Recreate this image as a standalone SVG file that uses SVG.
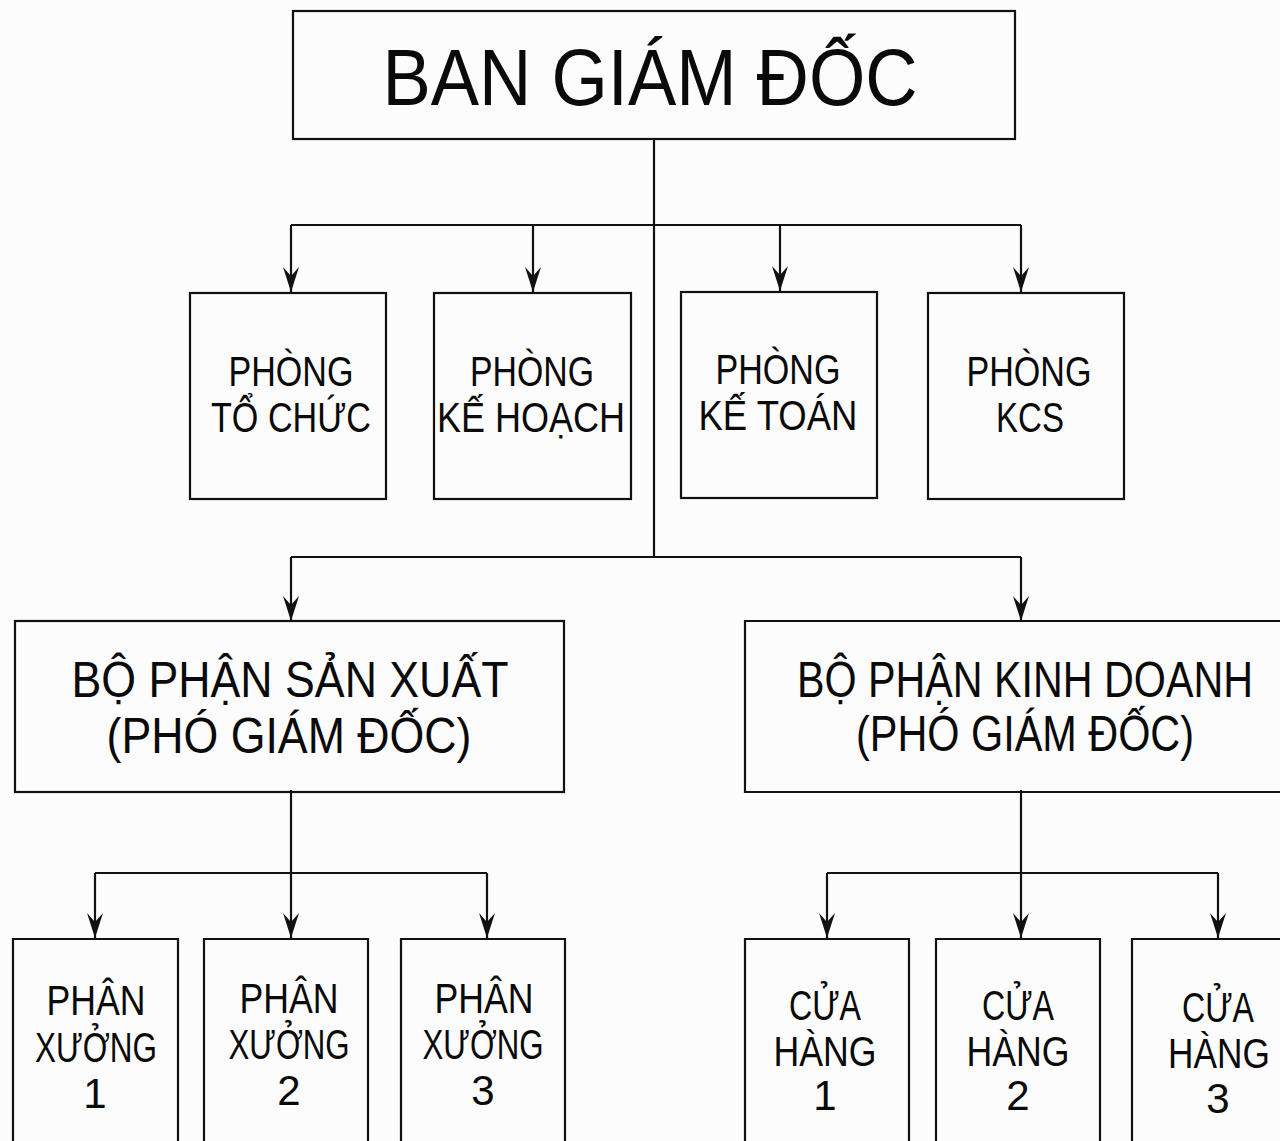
<svg xmlns="http://www.w3.org/2000/svg" width="1280" height="1141" viewBox="0 0 1280 1141">
  <style>
    .box { fill: none; stroke: #111; stroke-width: 2.2; }
    .wire { fill: none; stroke: #111; stroke-width: 2.2; }
    .arrow { fill: none; stroke: #111; stroke-width: 2.2; marker-end: url(#head); }
    text { font-family: "Liberation Sans", Arial, sans-serif; fill: #0a0a0a; text-anchor: middle; }
    .t1 { font-size: 80px; }
    .t2 { font-size: 42px; }
    .t3 { font-size: 50px; }
    .t4 { font-size: 42px; }
  </style>
  <defs>
    <!-- barbed arrowhead, tip at the end of the line -->
    <marker id="head" markerUnits="userSpaceOnUse" viewBox="0 0 25 16" refX="25" refY="8" markerWidth="25" markerHeight="16" orient="auto">
      <path d="M0,0 L25,8 L0,16 L9,8 z" fill="#111"/>
    </marker>
  </defs>
  <rect width="1280" height="1141" fill="#fcfcfc"/>

  <!-- connectors -->
  <g id="connectors">
    <path class="wire" d="M654,139 V557"/>
    <path class="wire" d="M291,225 H1021"/>
    <path class="arrow" d="M291,225 V292"/>
    <path class="arrow" d="M533,225 V292"/>
    <path class="arrow" d="M780,225 V291"/>
    <path class="arrow" d="M1021,225 V292"/>
    <path class="wire" d="M291,557 H1021"/>
    <path class="arrow" d="M291,557 V621"/>
    <path class="arrow" d="M1021,557 V621"/>
    <path class="arrow" d="M291,790 V938"/>
    <path class="wire" d="M95,873 H487"/>
    <path class="arrow" d="M95,873 V938"/>
    <path class="arrow" d="M487,873 V938"/>
    <path class="arrow" d="M1021,790 V938"/>
    <path class="wire" d="M827,873 H1218"/>
    <path class="arrow" d="M827,873 V938"/>
    <path class="arrow" d="M1218,873 V938"/>
  </g>

  <g id="ban-giam-doc">
    <rect class="box" x="293" y="11" width="722" height="128"/>
    <text class="t1" x="650" y="105" textLength="535" lengthAdjust="spacingAndGlyphs">BAN GIÁM ĐỐC</text>
  </g>

  <g id="phong-to-chuc">
    <rect class="box" x="190" y="293" width="196" height="206"/>
    <text class="t2" x="291" y="386" textLength="125" lengthAdjust="spacingAndGlyphs">PHÒNG</text>
    <text class="t2" x="291" y="432" textLength="160" lengthAdjust="spacingAndGlyphs">TỔ CHỨC</text>
  </g>

  <g id="phong-ke-hoach">
    <rect class="box" x="434" y="293" width="197" height="206"/>
    <text class="t2" x="532" y="386" textLength="124" lengthAdjust="spacingAndGlyphs">PHÒNG</text>
    <text class="t2" x="531" y="432" textLength="188" lengthAdjust="spacingAndGlyphs">KẾ HOẠCH</text>
  </g>

  <g id="phong-ke-toan">
    <rect class="box" x="681" y="292" width="196" height="206"/>
    <text class="t2" x="778" y="384" textLength="125" lengthAdjust="spacingAndGlyphs">PHÒNG</text>
    <text class="t2" x="778" y="430" textLength="159" lengthAdjust="spacingAndGlyphs">KẾ TOÁN</text>
  </g>

  <g id="phong-kcs">
    <rect class="box" x="928" y="293" width="196" height="206"/>
    <text class="t2" x="1029" y="386" textLength="125" lengthAdjust="spacingAndGlyphs">PHÒNG</text>
    <text class="t2" x="1030" y="432" textLength="68" lengthAdjust="spacingAndGlyphs">KCS</text>
  </g>

  <g id="bo-phan-san-xuat">
    <rect class="box" x="15" y="621" width="549" height="171"/>
    <text class="t3" x="290" y="697" textLength="437" lengthAdjust="spacingAndGlyphs">BỘ PHẬN SẢN XUẤT</text>
    <text class="t3" x="289" y="753" textLength="365" lengthAdjust="spacingAndGlyphs">(PHÓ GIÁM ĐỐC)</text>
  </g>

  <!-- this box runs past the right edge of the sheet -->
  <g id="bo-phan-kinh-doanh">
    <path class="box" d="M1281,621 H745 V792 H1281"/>
    <text class="t3" transform="translate(1025,697) scale(0.825,1)">BỘ PHẬN KINH DOANH</text>
    <text class="t3" x="1025" y="751" textLength="338" lengthAdjust="spacingAndGlyphs">(PHÓ GIÁM ĐỐC)</text>
  </g>

  <!-- bottom row boxes run past the lower edge of the sheet -->
  <g id="phan-xuong-1">
    <path class="box" d="M13,1142 V939 H178 V1142"/>
    <text class="t4" x="96" y="1015" textLength="99" lengthAdjust="spacingAndGlyphs">PHÂN</text>
    <text class="t4" x="96" y="1062" textLength="122" lengthAdjust="spacingAndGlyphs">XƯỞNG</text>
    <text class="t4" x="95" y="1108">1</text>
  </g>

  <g id="phan-xuong-2">
    <path class="box" d="M204,1142 V939 H368 V1142"/>
    <text class="t4" x="289" y="1013" textLength="99" lengthAdjust="spacingAndGlyphs">PHÂN</text>
    <text class="t4" x="289" y="1059" textLength="121" lengthAdjust="spacingAndGlyphs">XƯỞNG</text>
    <text class="t4" x="289" y="1105">2</text>
  </g>

  <g id="phan-xuong-3">
    <path class="box" d="M401,1142 V939 H565 V1142"/>
    <text class="t4" x="484" y="1013" textLength="99" lengthAdjust="spacingAndGlyphs">PHÂN</text>
    <text class="t4" x="483" y="1059" textLength="121" lengthAdjust="spacingAndGlyphs">XƯỞNG</text>
    <text class="t4" x="483" y="1105">3</text>
  </g>

  <g id="cua-hang-1">
    <path class="box" d="M745,1142 V939 H909 V1142"/>
    <text class="t4" x="825" y="1020" textLength="72" lengthAdjust="spacingAndGlyphs">CỬA</text>
    <text class="t4" x="825" y="1066" textLength="103" lengthAdjust="spacingAndGlyphs">HÀNG</text>
    <text class="t4" x="825" y="1110">1</text>
  </g>

  <g id="cua-hang-2">
    <path class="box" d="M936,1142 V939 H1100 V1142"/>
    <text class="t4" x="1018" y="1020" textLength="72" lengthAdjust="spacingAndGlyphs">CỬA</text>
    <text class="t4" x="1018" y="1066" textLength="103" lengthAdjust="spacingAndGlyphs">HÀNG</text>
    <text class="t4" x="1018" y="1110">2</text>
  </g>

  <g id="cua-hang-3">
    <path class="box" d="M1132,1142 V939 H1281"/>
    <text class="t4" x="1218" y="1022" textLength="72" lengthAdjust="spacingAndGlyphs">CỬA</text>
    <text class="t4" transform="translate(1219,1068) scale(0.84,1)">HÀNG</text>
    <text class="t4" x="1218" y="1113">3</text>
  </g>
</svg>
